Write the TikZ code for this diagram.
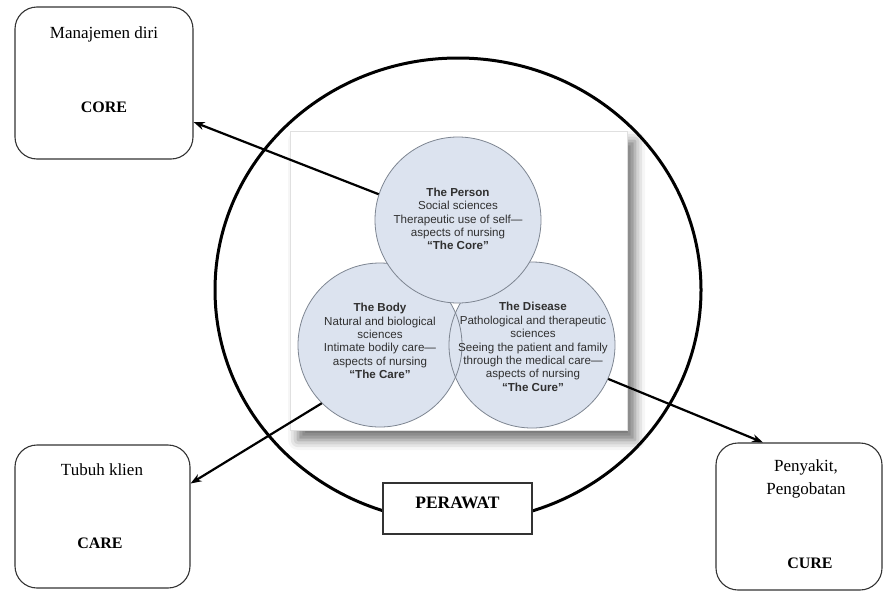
\documentclass[tikz,border=0pt]{standalone}
\usepackage{fontspec}
\setmainfont{Liberation Serif}
\newfontfamily\venn{Liberation Sans}
\usetikzlibrary{arrows.meta,shadows.blur}
\definecolor{vennfill}{HTML}{DCE3EF}
\definecolor{vennline}{HTML}{7D8591}
\definecolor{venntext}{HTML}{303030}
\definecolor{boxline}{HTML}{333333}
\begin{document}
\begin{tikzpicture}[x=1pt,y=-1pt,
  sidebox/.style={draw=boxline,line width=1.1pt,rounded corners=22pt,fill=white},
  vennc/.style={circle,draw=vennline,line width=0.8pt,minimum size=#1,inner sep=0pt},
  venntxt/.style={font=\venn\fontsize{11.6}{13.4}\selectfont,text=venntext,align=center},
  lbl/.style={font=\fontsize{17}{20}\selectfont,text=black,align=center},
  blbl/.style={font=\bfseries\fontsize{16}{18}\selectfont,text=black},
  arr/.style={line width=2.2pt,-{Stealth[length=11pt,width=8pt]}}]
\useasboundingbox (0,0) rectangle (883,592);
% panel with shadow
\node[draw=black!12,fill=white,minimum width=337pt,minimum height=299pt,inner sep=0pt,
  blur shadow={shadow xshift=8pt,shadow yshift=-10pt,shadow blur radius=10pt,shadow opacity=55}]
  (panel) at (458.5,280.5) {};
% big ellipse
\draw[line width=3pt] (458,290) ellipse [x radius=243pt,y radius=232pt];
% venn fills (body and disease)
\fill[vennfill] (380,345) circle [radius=82pt];
\fill[vennfill] (532,345) circle [radius=83pt];
% venn nodes
\node[vennc=164pt] (body) at (380,345) {};
\node[vennc=166pt] (disease) at (532,345) {};
\node[vennc=166pt,fill=vennfill] (person) at (458,220) {};
\node[venntxt] at (458,219) {\textbf{The Person}\\Social sciences\\Therapeutic use of self—\\aspects of nursing\\\textbf{“The Core”}};
\node[venntxt] at (380,341) {\textbf{The Body}\\Natural and biological\\sciences\\Intimate bodily care—\\aspects of nursing\\\textbf{“The Care”}};
\node[venntxt] at (533,347) {\textbf{The Disease}\\Pathological and therapeutic\\sciences\\Seeing the patient and family\\through the medical care—\\aspects of nursing\\\textbf{“The Cure”}};
% side boxes
\node[sidebox,minimum width=178pt,minimum height=152pt] (core) at (104,83) {};
\node[sidebox,minimum width=175pt,minimum height=143pt] (care) at (102.5,516.5) {};
\node[sidebox,minimum width=166pt,minimum height=147pt] (cure) at (799,516.5) {};
\node[lbl] (coretop) at (104,34) {Manajemen diri};
\node[blbl] (corelbl) at (104,107) {CORE};
\node[lbl] (caretop) at (102,470) {Tubuh klien};
\node[blbl] (carelbl) at (100,543) {CARE};
\node[lbl,font=\fontsize{17}{23}\selectfont] (curetop) at (806,479) {Penyakit,\\Pengobatan};
\node[blbl] (curelbl) at (810,563) {CURE};
% arrows
\draw[arr] (person.162) -- ([yshift=-39pt]core.east);
\draw[arr] (body.225) -- ([yshift=33pt]care.east);
\draw[arr] (disease.336) -- ([xshift=-36pt]cure.north);
% perawat
\node[draw=boxline,line width=1.6pt,fill=white,minimum width=149pt,minimum height=51pt,inner sep=0pt] (perawat) at (457.5,508.5) {};
\node[font=\bfseries\fontsize{17.5}{20}\selectfont] (perawatlbl) at (457.5,503) {PERAWAT};
\end{tikzpicture}
\end{document}
